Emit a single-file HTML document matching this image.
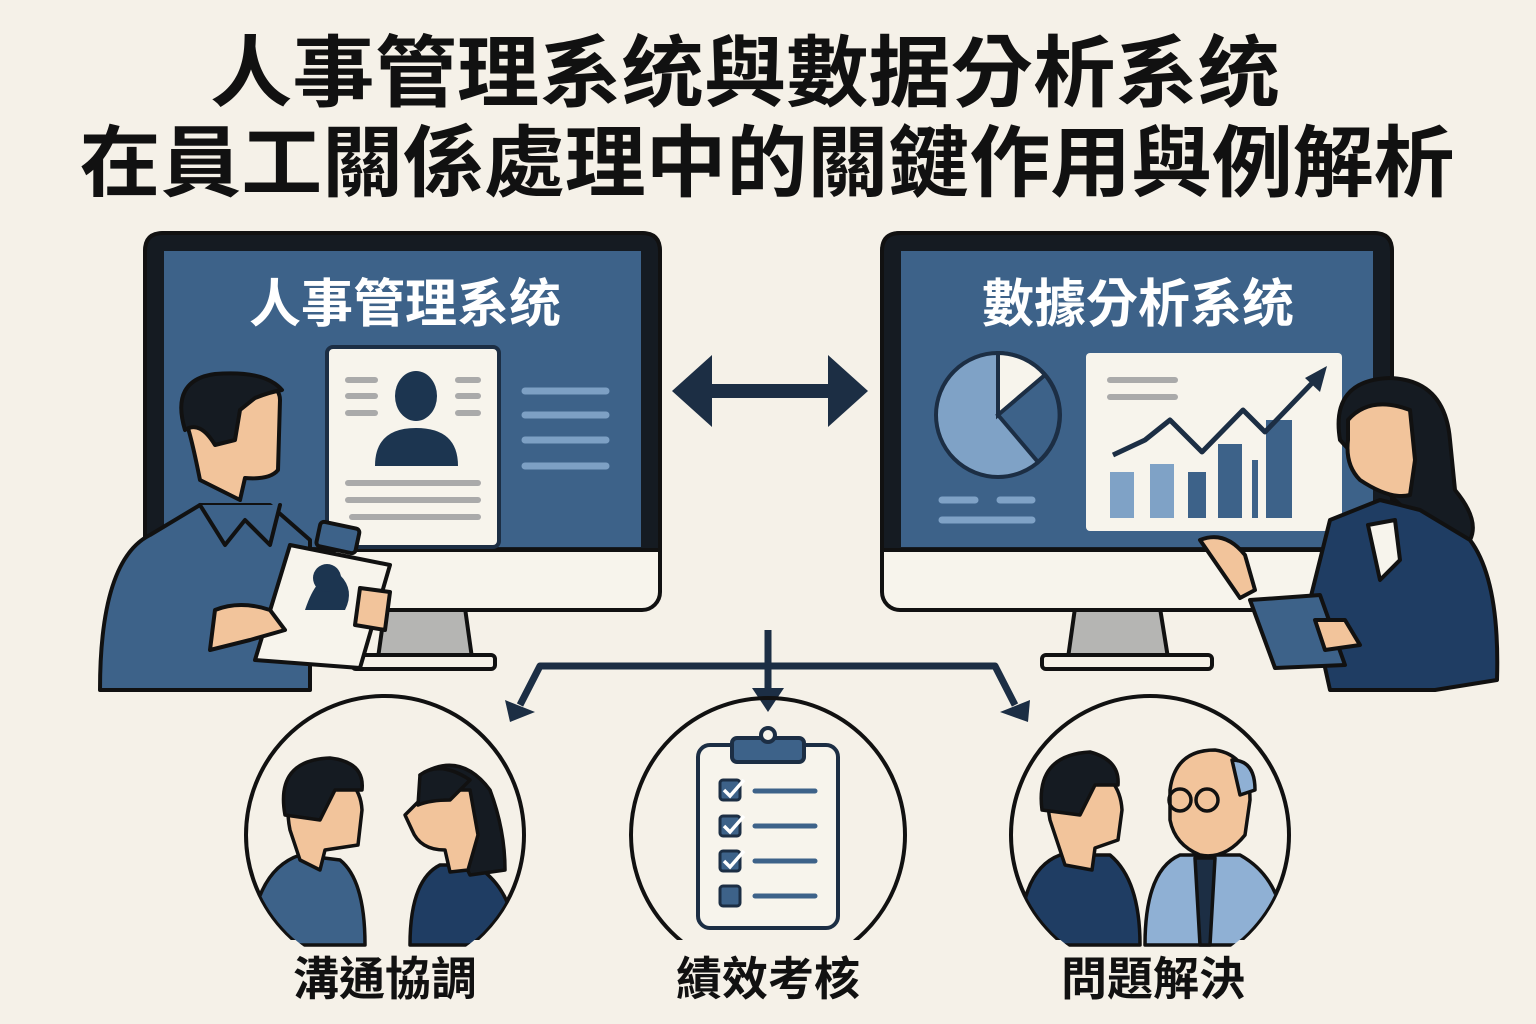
<!DOCTYPE html>
<html><head><meta charset="utf-8"><style>
html,body{margin:0;padding:0;background:#f5f1e8;}
svg{display:block}
text{font-family:"Liberation Sans","Noto Sans CJK TC","Noto Sans CJK SC",sans-serif;font-weight:bold}
</style></head><body>
<svg width="1536" height="1024" viewBox="0 0 1536 1024" xmlns="http://www.w3.org/2000/svg">
<rect width="1536" height="1024" fill="#f5f1e8"/>
<text x="745" y="100" font-size="78" text-anchor="middle" fill="#111" textLength="1070" lengthAdjust="spacingAndGlyphs">人事管理系统與數据分析系统</text>
<text x="767" y="190" font-size="78" text-anchor="middle" fill="#111" textLength="1375" lengthAdjust="spacingAndGlyphs">在員工關係處理中的關鍵作用與例解析</text>

<g stroke="#111" stroke-width="4" stroke-linejoin="round">
<polygon points="385,608 465,608 472,658 378,658" fill="#b5b5b3"/>
<rect x="352" y="655" width="143" height="14" rx="4" fill="#f5f1e8"/>
<rect x="145" y="233" width="515" height="377" rx="18" fill="#f7f4ec"/>
<path d="M163,233 H642 Q660,233 660,251 V550 H145 V251 Q145,233 163,233 Z" fill="#151b22"/>
<rect x="164" y="251" width="477" height="296" fill="#3d6289" stroke="none"/>
<polygon points="1075,608 1160,608 1168,658 1068,658" fill="#b5b5b3"/>
<rect x="1042" y="655" width="170" height="14" rx="4" fill="#f5f1e8"/>
<rect x="882" y="233" width="510" height="377" rx="18" fill="#f7f4ec"/>
<path d="M900,233 H1374 Q1392,233 1392,251 V550 H882 V251 Q882,233 900,233 Z" fill="#151b22"/>
<rect x="901" y="251" width="472" height="296" fill="#3d6289" stroke="none"/>
</g>
<text x="405" y="322" font-size="52" fill="#fff" text-anchor="middle">人事管理系统</text>
<text x="1138" y="322" font-size="52" fill="#fff" text-anchor="middle">數據分析系统</text>

<rect x="327" y="347" width="172" height="200" rx="6" fill="#f7f4ec" stroke="#1c2e44" stroke-width="4"/>
<g stroke="#aaa" stroke-width="6" stroke-linecap="round">
<line x1="348" y1="380" x2="375" y2="380"/><line x1="348" y1="396" x2="375" y2="396"/><line x1="348" y1="413" x2="375" y2="413"/>
<line x1="458" y1="380" x2="478" y2="380"/><line x1="458" y1="396" x2="478" y2="396"/><line x1="458" y1="413" x2="478" y2="413"/>
<line x1="348" y1="483" x2="478" y2="483"/><line x1="348" y1="500" x2="478" y2="500"/><line x1="352" y1="517" x2="478" y2="517"/>
</g>
<ellipse cx="416" cy="396" rx="21" ry="25" fill="#1c3550"/>
<path d="M375,466 Q375,428 416,428 Q458,428 458,466 Z" fill="#1c3550"/>
<g stroke="#7da0c4" stroke-width="7" stroke-linecap="round">
<line x1="525" y1="391" x2="606" y2="391"/><line x1="525" y1="415" x2="606" y2="415"/><line x1="525" y1="440" x2="606" y2="440"/><line x1="525" y1="466" x2="606" y2="466"/>
</g>

<g stroke="#111" stroke-width="4" stroke-linejoin="round" stroke-linecap="round">
<path d="M148,690 L100,690 Q100,560 150,535 L200,505 L270,505 L310,540 L310,690 Z" fill="#3d6289"/>
<path d="M200,505 L225,545 L245,520 L270,545 L280,505" fill="#3d6289"/>
<path d="M200,480 Q190,430 185,420 Q180,380 230,375 Q280,378 280,400 L278,470 Q270,480 245,478 L240,500 Z" fill="#f2c49b"/>
<path d="M185,430 Q170,380 215,374 Q265,370 282,390 Q270,392 255,398 L240,410 L235,440 L215,445 Q200,420 185,430 Z" fill="#151b22"/>
<polygon points="290,545 390,565 360,668 255,660" fill="#f7f4ec"/>
<rect x="318" y="525" width="40" height="25" rx="4" fill="#3d6289" transform="rotate(12 338 537)"/>
<path d="M215,610 Q240,600 270,610 L285,630 L250,640 L210,650 Z" fill="#f2c49b"/>
<path d="M360,588 L390,592 L385,630 L355,625 Z" fill="#f2c49b"/>
</g>
<path d="M305,610 Q318,570 340,575 Q355,590 345,610 Z" fill="#1c3550"/>
<circle cx="327" cy="578" r="14" fill="#1c3550"/>

<g fill="#1c2e44">
<rect x="700" y="384" width="140" height="14"/>
<polygon points="672,391 712,355 712,427"/>
<polygon points="868,391 828,355 828,427"/>
</g>

<circle cx="998" cy="415" r="62" fill="#7fa2c6" stroke="#1c2e44" stroke-width="4"/>
<path d="M998,415 L998,353 A62,62 0 0 1 1045,375 Z" fill="#f7f4ec" stroke="#1c2e44" stroke-width="4"/>
<path d="M998,415 L1045,375 A62,62 0 0 1 1038,462 Z" fill="#3d6289" stroke="#1c2e44" stroke-width="4"/>
<g stroke="#7fa2c6" stroke-width="7" stroke-linecap="round">
<line x1="942" y1="500" x2="975" y2="500"/><line x1="1000" y1="500" x2="1032" y2="500"/><line x1="942" y1="520" x2="1032" y2="520"/>
</g>
<rect x="1086" y="353" width="256" height="178" rx="4" fill="#f7f4ec"/>
<g stroke="#aaa" stroke-width="6" stroke-linecap="round"><line x1="1110" y1="380" x2="1175" y2="380"/><line x1="1110" y1="397" x2="1175" y2="397"/></g>
<rect x="1110" y="472" width="24" height="46" fill="#7fa2c6"/>
<rect x="1150" y="464" width="24" height="54" fill="#7fa2c6"/>
<rect x="1188" y="472" width="18" height="46" fill="#3d6289"/>
<rect x="1218" y="444" width="24" height="74" fill="#3d6289"/>
<rect x="1252" y="460" width="6" height="58" fill="#3d6289"/>
<rect x="1266" y="420" width="26" height="98" fill="#3d6289"/>
<polyline points="1113,455 1145,440 1170,420 1202,452 1243,410 1265,432 1315,380" fill="none" stroke="#1c2e44" stroke-width="5" stroke-linejoin="round"/>
<polygon points="1327,366 1305,378 1320,392" fill="#1c2e44"/>

<g stroke="#111" stroke-width="4" stroke-linejoin="round" stroke-linecap="round">
<path d="M1340,440 Q1330,380 1390,378 Q1445,380 1450,440 L1455,490 Q1480,520 1470,540 L1440,540 L1395,500 Z" fill="#151b22"/>
<path d="M1348,420 Q1370,395 1410,410 L1415,460 L1410,495 Q1390,500 1360,480 Q1345,465 1348,440 Z" fill="#f2c49b"/>
<path d="M1330,520 L1380,500 L1420,510 L1470,540 Q1500,580 1497,680 L1435,690 L1330,690 L1310,600 Z" fill="#1f3d63"/>
<path d="M1368,525 L1395,520 L1400,560 L1380,580 Z" fill="#f7f4ec"/>
<polygon points="1250,600 1320,595 1345,665 1275,668" fill="#3d6289"/>
<path d="M1200,540 Q1225,530 1245,555 L1255,590 L1240,598 Z" fill="#f2c49b"/>
<path d="M1315,620 L1345,620 L1360,645 L1325,650 Z" fill="#f2c49b"/>
</g>

<g stroke="#1c2e44" stroke-width="7" fill="none" stroke-linejoin="round">
<line x1="768" y1="630" x2="768" y2="690"/>
<polyline points="520,705 540,666 995,666 1015,705"/>
</g>
<g fill="#1c2e44">
<polygon points="752,688 784,688 768,712"/>
<polygon points="505,700 535,712 510,722"/>
<polygon points="1000,712 1030,700 1028,722"/>
</g>

<defs>
<clipPath id="c1"><circle cx="385" cy="835" r="138"/></clipPath>
<clipPath id="c3"><circle cx="1150" cy="835" r="138"/></clipPath>
</defs>
<g fill="none" stroke="#111" stroke-width="4">
<circle cx="385" cy="835" r="139"/>
<circle cx="768" cy="835" r="137"/>
<circle cx="1150" cy="835" r="139"/>
</g>
<rect x="270" y="940" width="230" height="60" fill="#f5f1e8"/>
<rect x="650" y="940" width="240" height="60" fill="#f5f1e8"/>
<rect x="1035" y="940" width="230" height="60" fill="#f5f1e8"/>

<g clip-path="url(#c1)" stroke="#111" stroke-width="3.5" stroke-linejoin="round">
<path d="M250,945 Q255,870 300,855 L340,860 Q365,880 365,945 Z" fill="#3d6289"/>
<path d="M290,830 Q280,780 320,770 Q360,775 362,810 L358,845 L325,850 L320,870 L300,860 Z" fill="#f2c49b"/>
<path d="M285,815 Q275,760 330,758 Q365,762 362,790 L335,790 L320,820 Z" fill="#151b22"/>
<path d="M410,945 Q410,880 440,865 L475,865 Q515,890 515,945 Z" fill="#1f3d63"/>
<path d="M420,775 Q460,750 490,790 Q505,830 505,870 L470,875 Z" fill="#151b22"/>
<path d="M430,790 L470,790 L478,835 L468,870 L450,872 L445,850 Q420,850 412,830 L405,815 Z" fill="#f2c49b"/>
<path d="M420,775 Q440,760 470,780 L450,800 Q430,800 418,805 Z" fill="#151b22"/>
</g>

<rect x="698" y="745" width="140" height="183" rx="12" fill="#f7f4ec" stroke="#1c2e44" stroke-width="4"/>
<rect x="732" y="738" width="72" height="24" rx="5" fill="#3d6289" stroke="#1c2e44" stroke-width="4"/>
<circle cx="768" cy="735" r="7" fill="#f7f4ec" stroke="#1c2e44" stroke-width="4"/>
<g fill="#3d6289" stroke="#1c2e44" stroke-width="3">
<rect x="720" y="780" width="20" height="20" rx="3"/><rect x="720" y="816" width="20" height="20" rx="3"/><rect x="720" y="851" width="20" height="20" rx="3"/><rect x="720" y="886" width="20" height="20" rx="3"/>
</g>
<g stroke="#fff" stroke-width="3.5" fill="none"><polyline points="724,790 730,796 744,780"/><polyline points="724,826 730,832 744,816"/><polyline points="724,861 730,867 744,851"/></g>
<g stroke="#3d6289" stroke-width="5" stroke-linecap="round">
<line x1="755" y1="791" x2="815" y2="791"/><line x1="755" y1="826" x2="815" y2="826"/><line x1="755" y1="861" x2="815" y2="861"/><line x1="755" y1="896" x2="815" y2="896"/>
</g>

<g clip-path="url(#c3)" stroke="#111" stroke-width="3.5" stroke-linejoin="round">
<path d="M1020,945 Q1020,870 1060,855 L1110,855 Q1140,880 1140,945 Z" fill="#1f3d63"/>
<path d="M1050,820 Q1040,770 1085,765 Q1120,775 1122,810 L1118,840 L1095,848 L1092,870 L1065,865 Z" fill="#f2c49b"/>
<path d="M1042,810 Q1035,755 1090,752 Q1120,760 1118,785 L1095,785 L1080,815 Z" fill="#151b22"/>
<path d="M1145,945 Q1145,870 1180,855 L1240,855 Q1285,880 1285,945 Z" fill="#8fb0d4"/>
<path d="M1195,858 L1215,858 L1210,945 L1200,945 Z" fill="#1c2e44"/>
<path d="M1170,790 Q1175,750 1215,750 Q1250,755 1250,800 L1245,835 Q1225,860 1200,855 Q1175,845 1170,820 Z" fill="#f2c49b"/>
<path d="M1232,760 Q1255,760 1255,790 L1240,795 Z" fill="#8fb0d4"/>
<circle cx="1180" cy="800" r="11" fill="none"/><circle cx="1207" cy="800" r="11" fill="none"/>
</g>

<text x="385" y="995" font-size="46" fill="#111" text-anchor="middle">溝通協調</text>
<text x="768" y="995" font-size="46" fill="#111" text-anchor="middle">績效考核</text>
<text x="1153" y="995" font-size="46" fill="#111" text-anchor="middle">問題解決</text>
</svg>
</body></html>
